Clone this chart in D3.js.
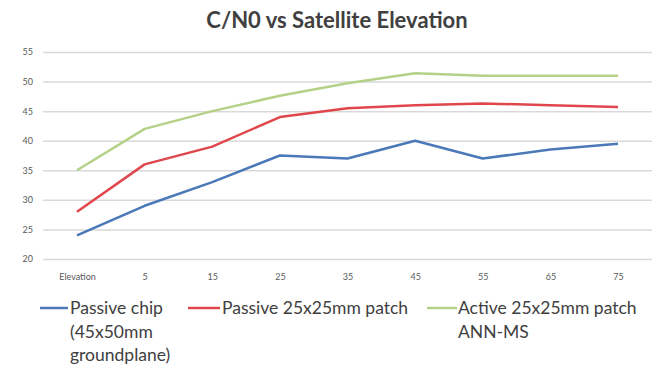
<!DOCTYPE html>
<html><head><meta charset="utf-8">
<script src="https://cdn.jsdelivr.net/npm/d3@7"></script>
<style>body{margin:0;background:#fff}</style>
</head><body><svg id="c" width="661" height="365"></svg>
<script>
const categories = ["Elevation","5","15","25","35","45","55","65","75"];
const passiveChip = [24,29,33,37.5,37,40,37,38.5,39.5];
const passivePatch = [28,36,39,44,45.5,46,46.3,46,45.7];
const activePatch = [35,42,45,47.6,49.7,51.4,51,51,51];
const seriesNames = [["Passive chip","(45x50mm","groundplane)"],["Passive 25x25mm patch"],["Active 25x25mm patch","ANN-MS"]];
const yTicks = [20,25,30,35,40,45,50,55];
const colors = ["#4a78b8","#e0474c","#b5d188"];
const series = [passiveChip, passivePatch, activePatch];

const svg = d3.select("#c");
const font = "Lato, 'Open Sans', sans-serif";
svg.append("rect").attr("width",661).attr("height",365).attr("fill","#fff");

const x = d3.scalePoint().domain(categories).range([77,618]);
const y = d3.scaleLinear().domain([20,55]).range([259,52]);

svg.append("text").attr("x",337).attr("y",28).attr("text-anchor","middle")
  .attr("font-family",font).attr("font-weight","bold").attr("font-size",22)
  .attr("fill","#404040").text("C/N0 vs Satellite Elevation");

const yAxis = svg.append("g").attr("transform","translate(43,0)")
  .call(d3.axisLeft(y).tickValues(yTicks).tickSize(-609).tickPadding(10));
yAxis.select(".domain").remove();
yAxis.selectAll("line").attr("stroke","#d9d9d9").attr("stroke-width",1.5);
yAxis.selectAll("text").attr("font-family",font).attr("font-size",9).attr("fill","#595959");

const xAxis = svg.append("g").attr("transform","translate(0,259)")
  .call(d3.axisBottom(x).tickSize(0).tickPadding(15));
xAxis.select(".domain").remove();
xAxis.selectAll("text").attr("font-family",font).attr("font-size",9).attr("fill","#595959");

const line = d3.line().x((d,i)=>x(categories[i])).y(d=>y(d));
series.forEach((s,k)=>{
  svg.append("path").datum(s).attr("d",line).attr("fill","none")
    .attr("stroke",colors[k]).attr("stroke-width",2.5).attr("stroke-linejoin","round");
});

const legX = [[40,68,70],[188,220,222],[427,457,458]];
seriesNames.forEach((names,k)=>{
  const g = svg.append("g");
  g.append("line").attr("x1",legX[k][0]).attr("x2",legX[k][1]).attr("y1",308).attr("y2",308)
    .attr("stroke",colors[k]).attr("stroke-width",2.5);
  names.forEach((t,j)=>{
    g.append("text").attr("x",legX[k][2]).attr("y",314+j*23.5)
      .attr("font-family",font).attr("font-size",17.5).attr("fill","#404040").text(t);
  });
});
</script></body></html>
